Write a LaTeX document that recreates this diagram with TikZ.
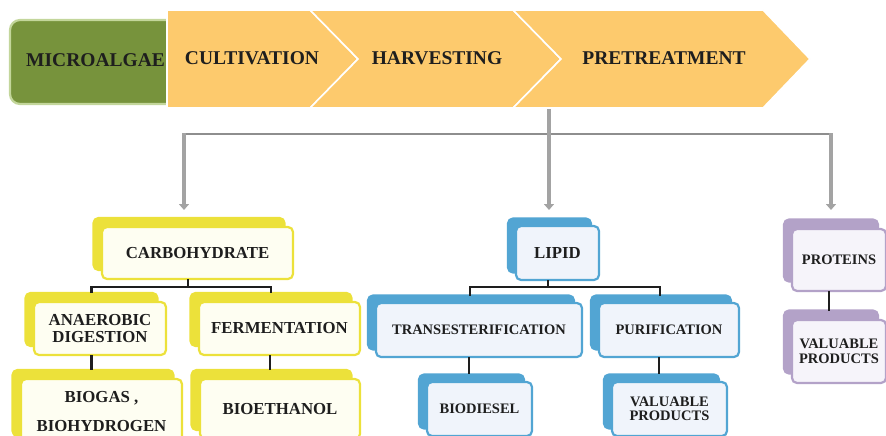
\documentclass[tikz,border=0pt]{standalone}
\usepackage{fontspec}
\setmainfont{Liberation Serif}
\usetikzlibrary{arrows.meta,shadows,calc}

\definecolor{ink}{HTML}{1E1E1E}
\definecolor{algae}{HTML}{77933C}
\definecolor{algaeedge}{HTML}{C3D69B}
\definecolor{band}{HTML}{FDCA6D}
\definecolor{yel}{HTML}{ECE13A}
\definecolor{yelfront}{HTML}{FEFEF2}
\definecolor{blu}{HTML}{52A5D3}
\definecolor{blufront}{HTML}{F0F4FB}
\definecolor{pur}{HTML}{B3A2C8}
\definecolor{purfront}{HTML}{F6F4FA}
\definecolor{gline}{HTML}{8E8E8E}
\definecolor{garr}{HTML}{A3A3A3}

\newcommand\ftop{\fontsize{19.5}{22}\selectfont}
\newcommand\fbig{\fontsize{16.8}{18}\selectfont}
\newcommand\fsmall{\fontsize{14.5}{16}\selectfont}

\tikzset{
  toptext/.style={font=\ftop\bfseries, text=ink, inner sep=0pt},
  box/.style={rounded corners=5pt, line width=2.2pt, inner sep=0pt, outer sep=0pt,
    align=center, text=ink},
  ybox/.style={box, draw=yel, fill=yelfront, font=\fbig\bfseries,
    copy shadow={shadow xshift=-8.5pt, shadow yshift=9pt, fill=yel, draw=yel}},
  bbox/.style={box, draw=blu, fill=blufront, font=\fsmall\bfseries,
    copy shadow={shadow xshift=-8pt, shadow yshift=7.5pt, fill=blu, draw=blu}},
  pbox/.style={box, draw=pur, fill=purfront, font=\fsmall\bfseries,
    copy shadow={shadow xshift=-8pt, shadow yshift=9.5pt, fill=pur, draw=pur}},
  tree/.style={line width=2.6pt, draw=ink},
  hline/.style={line width=1.8pt, draw=gline},
  garrow/.style={line width=4.5pt, draw=garr,
    -{Triangle[width=10pt,length=6pt]}},
  chev/.style={fill=band, draw=white, line width=1.6pt, line join=miter},
}

\begin{document}
\begin{tikzpicture}[x=1pt,y=-1pt]
\useasboundingbox (0,0) rectangle (886,436);

% starting block
\draw[fill=algae, draw=algaeedge, line width=2.2pt, rounded corners=10pt]
  (10,20) rectangle (185,104);
\node[toptext, anchor=west] (micro) at (26,60.5) {MICROALGAE};

% process band
\draw[chev] (167,10) -- (310,10) -- (358,59) -- (310,108) -- (167,108) -- cycle;
\draw[chev] (310,10) -- (513,10) -- (561,59) -- (513,108) -- (310,108) -- (358,59) -- cycle;
\draw[chev] (513,10) -- (763,10) -- (810,59) -- (763,108) -- (513,108) -- (561,59) -- cycle;
\node[toptext] (cult) at (252,58.5) {CULTIVATION};
\node[toptext] (harv) at (437,58.5) {HARVESTING};
\node[toptext] (pret) at (664,58.5) {PRETREATMENT};

% carbohydrate branch
\node[ybox, minimum width=191pt, minimum height=52pt] (carb) at (197.5,253) {CARBOHYDRATE};
\node[ybox, minimum width=132pt, minimum height=53pt] (anaer) at (100,328.5)
  {ANAEROBIC\\[-1pt]DIGESTION};
\node[ybox, minimum width=161pt, minimum height=53pt] (ferm) at (279.5,328.5) {FERMENTATION};
\node[ybox, minimum width=161pt, minimum height=66pt] (biogas) at (101.5,412)
  {BIOGAS ,\\[11pt]BIOHYDROGEN};
\node[ybox, minimum width=160pt, minimum height=60pt] (bioeth) at (280,409) {BIOETHANOL};

% lipid branch
\node[bbox, font=\fbig\bfseries, minimum width=83pt, minimum height=54pt] (lipid) at (557.5,253) {LIPID};
\node[bbox, minimum width=206pt, minimum height=54pt] (trans) at (479,330) {TRANSESTERIFICATION};
\node[bbox, minimum width=140pt, minimum height=54pt] (purif) at (669,330) {PURIFICATION};
\node[bbox, minimum width=105pt, minimum height=54pt] (biod) at (479.5,409) {BIODIESEL};
\node[bbox, minimum width=115pt, minimum height=54pt] (lval) at (669.5,409)
  {VALUABLE\\[-1.5pt]PRODUCTS};

% protein branch
\node[pbox, minimum width=94pt, minimum height=62pt] (prot) at (839,260) {PROTEINS};
\node[pbox, minimum width=94pt, minimum height=63pt] (pval) at (839,351.5)
  {VALUABLE\\[-1.5pt]PRODUCTS};

% attachment points of the tree connectors (centres of the back plates)
\coordinate (carbS) at ([xshift=-9.5pt]carb.south);
\coordinate (carbJ) at ([yshift=-8pt]carb.south);
\coordinate (anaerN) at ([xshift=-8.5pt,yshift=9pt]anaer.north);
\coordinate (fermN) at ([xshift=-8.5pt,yshift=9pt]ferm.north);
\coordinate (anaerS) at ([xshift=-8.5pt]anaer.south);
\coordinate (fermS) at ([xshift=-9.5pt]ferm.south);
\coordinate (biogasN) at ([yshift=9pt]biogas.north);
\coordinate (biethN) at ([yshift=9pt]bioeth.north);

\coordinate (lipidS) at ([xshift=-9.5pt]lipid.south);
\coordinate (lipidJ) at ([yshift=-7pt]lipid.south);
\coordinate (transN) at ([xshift=-9pt,yshift=7.5pt]trans.north);
\coordinate (purifN) at ([xshift=-9pt,yshift=7.5pt]purif.north);
\coordinate (transS) at ([xshift=-10pt]trans.south);
\coordinate (purifS) at ([xshift=-10pt]purif.south);
\coordinate (biodN) at ([yshift=8pt]biod.north);
\coordinate (lvalN) at ([yshift=8pt]lval.north);

\coordinate (protS) at ([xshift=-10pt]prot.south);
\coordinate (pvalN) at ([yshift=9.5pt]pval.north);

% tree connectors
\draw[tree] (anaerN) |- (carbJ) -| (fermN);
\draw[tree] (carbS) -- (carbS |- carbJ);
\draw[tree] (anaerS) -- (anaerS |- biogasN);
\draw[tree] (fermS) -- (fermS |- biethN);

\draw[tree] (transN) |- (lipidJ) -| (purifN);
\draw[tree] (lipidS) -- (lipidS |- lipidJ);
\draw[tree] (transS) -- (transS |- biodN);
\draw[tree] (purifS) -- (purifS |- lvalN);

\draw[tree] (protS) -- (protS |- pvalN);

% distribution arrows
\coordinate (pbot) at (549,109);
\coordinate (hub) at (549,134);
\coordinate (tipC) at ([xshift=-13.5pt,yshift=17pt]carb.north);
\coordinate (tipL) at ([xshift=-8.5pt,yshift=16pt]lipid.north);
\coordinate (tipP) at ([xshift=-8pt,yshift=19pt]prot.north);
\draw[hline] (tipC |- hub) -- (tipP |- hub);
\draw[garrow] ([yshift=0.9pt]tipC |- hub) -- (tipC);
\draw[garrow] ([yshift=0.9pt]tipP |- hub) -- (tipP);
\draw[garrow] (pbot) -- (tipL);
\end{tikzpicture}
\end{document}
